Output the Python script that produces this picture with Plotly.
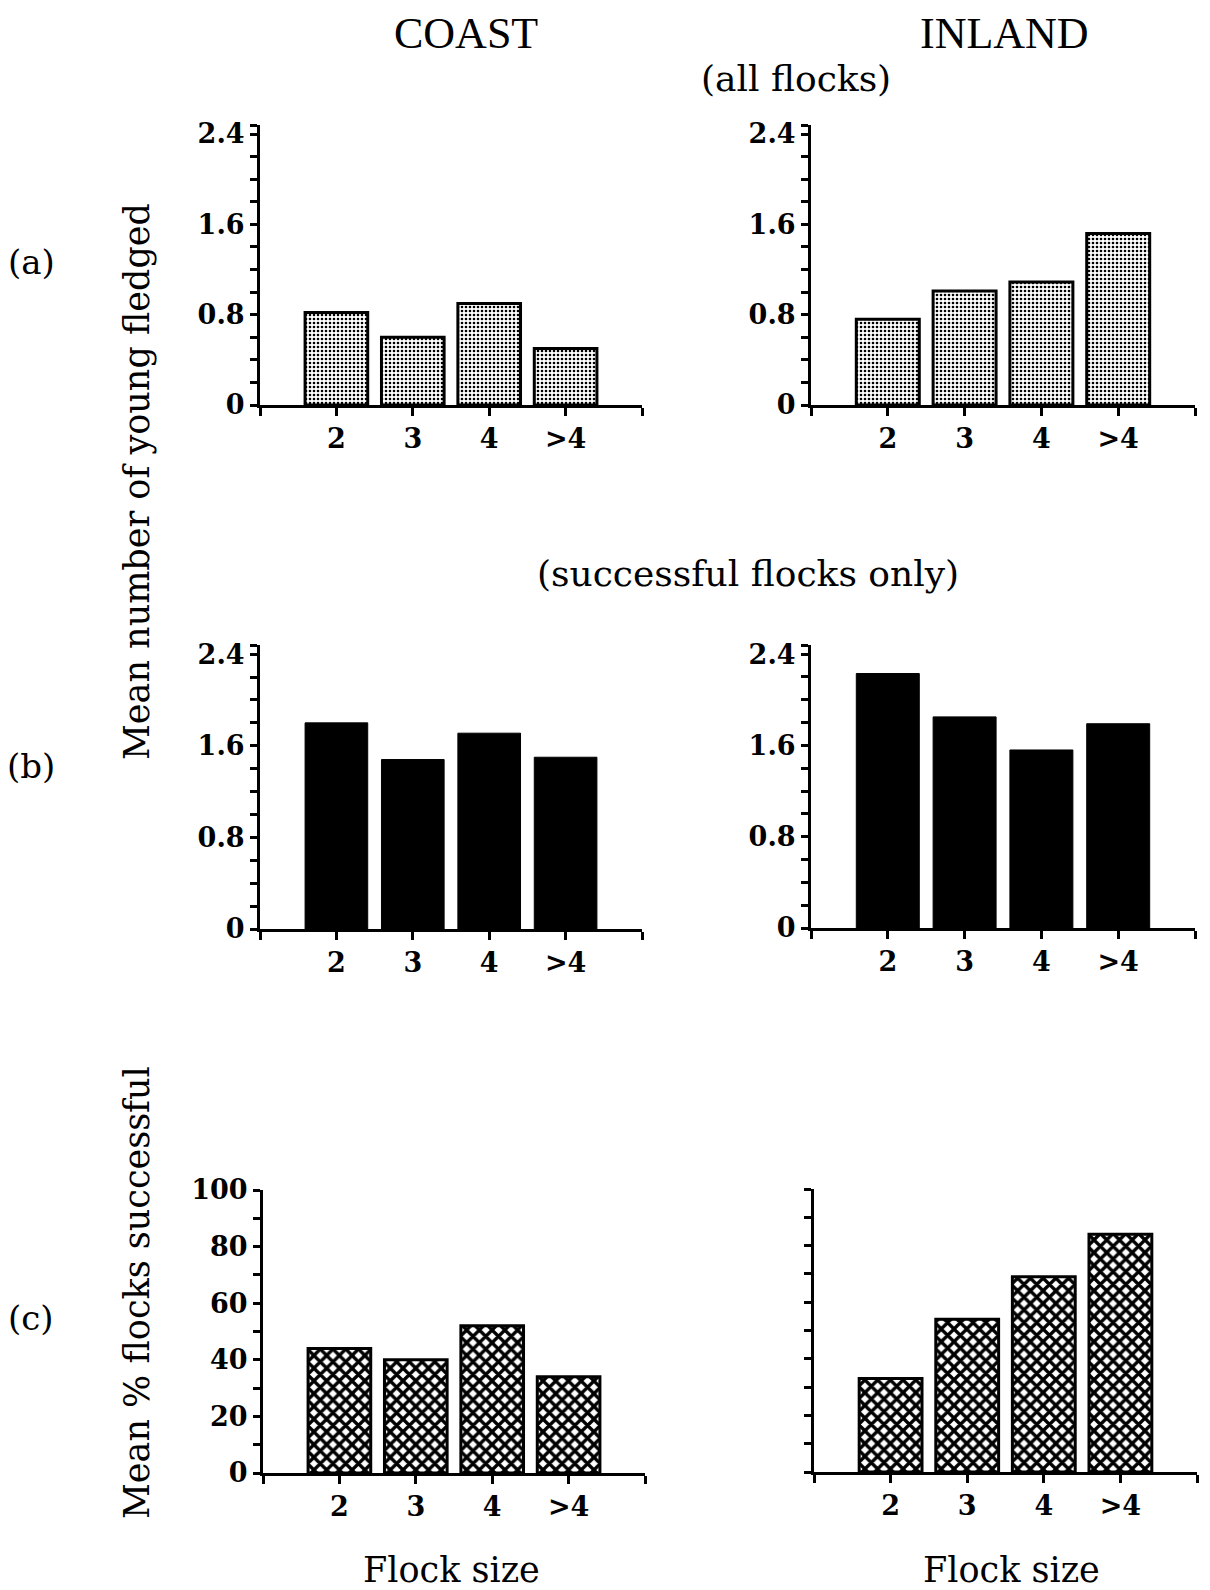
import plotly.graph_objects as go

# ---------------- data ----------------
flock_sizes = ["2", "3", "4", ">4"]

coast_all_flocks = [0.82, 0.60, 0.90, 0.50]
inland_all_flocks = [0.76, 1.01, 1.09, 1.52]

coast_successful_only = [1.80, 1.48, 1.71, 1.50]
inland_successful_only = [2.23, 1.85, 1.56, 1.79]

coast_pct_successful = [44, 40, 52, 34]
inland_pct_successful = [33, 54, 69, 84]

young_major_ticks = [0, 0.8, 1.6, 2.4]
young_minor_ticks = [0.2, 0.4, 0.6, 1.0, 1.2, 1.4, 1.8, 2.0, 2.2, 2.48]
pct_major_ticks = [0, 20, 40, 60, 80, 100]
pct_minor_ticks = [10, 30, 50, 70, 90]

# ---------------- layout helpers ----------------
W, H = 1210, 1590
def px(x):
    return x / W
def py(y):
    return 1 - y / H

FONT = "DejaVu Serif"
TITLE_FONT = "Liberation Serif"

x_pos = list(range(len(flock_sizes)))
x_tickvals = [-1] + x_pos + [len(flock_sizes)]
x_ticktext = [""] + flock_sizes + [""]

fig = go.Figure()

panels = [
    (coast_all_flocks, "stipple", (260, 642), (405, 125), [0, 2.48], "young", True),
    (inland_all_flocks, "stipple", (811, 1195), (405, 125), [0, 2.48], "young", True),
    (coast_successful_only, "solid", (260, 642), (929, 645), [0, 2.48], "young", True),
    (inland_successful_only, "solid", (811, 1195), (928, 645), [0, 2.48], "young", True),
    (coast_pct_successful, "cross", (263, 645), (1473, 1190), [0, 100], "pct", True),
    (inland_pct_successful, "cross", (814, 1197), (1472, 1189), [0, 100], "pct", False),
]

tickfont = dict(family=FONT, size=27, color="black", weight="bold")

for i, (vals, pat, xd, yd, yr, tk, ylab) in enumerate(panels, start=1):
    sfx = "" if i == 1 else str(i)
    if pat == "stipple":
        marker = dict(color="white", line=dict(color="black", width=3),
                      pattern=dict(shape=".", size=4, solidity=0.33,
                                   fgcolor="black", bgcolor="white"))
    elif pat == "solid":
        marker = dict(color="black", line=dict(color="black", width=1))
    else:
        marker = dict(color="white", line=dict(color="black", width=3),
                      pattern=dict(shape="x", size=9, solidity=0.6,
                                   fgcolor="black", bgcolor="white"))
    fig.add_trace(go.Bar(x=x_pos, y=vals, width=0.82, marker=marker,
                         xaxis="x" + sfx, yaxis="y" + sfx, showlegend=False,
                         hoverinfo="skip"))

    if tk == "young":
        major, minor = young_major_ticks, young_minor_ticks
        ticktext = ["0", "0.8", "1.6", "2.4"]
    else:
        major, minor = pct_major_ticks, pct_minor_ticks
        ticktext = [str(v) for v in major]
    if not ylab:
        ticktext = [""] * len(major)

    fig.layout["xaxis" + sfx] = dict(
        domain=[px(xd[0]), px(xd[1])], range=[-1, len(flock_sizes)],
        anchor="y" + sfx, showline=True, linecolor="black", linewidth=3,
        tickmode="array", tickvals=x_tickvals, ticktext=x_ticktext,
        ticks="outside", ticklen=8, tickwidth=2.5, tickcolor="black",
        showgrid=False, zeroline=False, fixedrange=True, automargin=False,
        tickfont=tickfont,
    )
    fig.layout["yaxis" + sfx] = dict(
        domain=[py(yd[0]), py(yd[1])], range=yr,
        anchor="x" + sfx, showline=True, linecolor="black", linewidth=3,
        tickmode="array", tickvals=major, ticktext=ticktext,
        ticks="outside", ticklen=7, tickwidth=2.5, tickcolor="black",
        minor=dict(tickmode="array", tickvals=minor, ticks="outside",
                   ticklen=7, tickwidth=2.5, tickcolor="black", showgrid=False),
        showgrid=False, zeroline=False, fixedrange=True, automargin=False,
        tickfont=tickfont,
    )

def txt(text, x, y, size, family=FONT, angle=0):
    fig.add_annotation(text=text, x=px(x), y=py(y), xref="paper", yref="paper",
                       showarrow=False, textangle=angle, xanchor="center",
                       yanchor="middle",
                       font=dict(family=family, size=size, color="black"))

txt("COAST", 466, 34, 44, TITLE_FONT)
txt("INLAND", 1004, 34, 44, TITLE_FONT)
txt("(all flocks)", 796, 79, 36)
txt("(successful flocks only)", 748, 574, 36)
txt("(a)", 31, 262, 34)
txt("(b)", 31, 766, 34)
txt("(c)", 31, 1318, 34)
txt("Mean number of young fledged", 137, 482, 35, angle=-90)
txt("Mean % flocks successful", 137, 1293, 35, angle=-90)
txt("Flock size", 451, 1570, 35)
txt("Flock size", 1011, 1570, 35)

fig.update_layout(
    template="none",
    width=W, height=H, autosize=False,
    margin=dict(l=0, r=0, t=0, b=0, pad=0, autoexpand=False),
    paper_bgcolor="white", plot_bgcolor="white",
    showlegend=False,
)

fig.write_html("out.html")
